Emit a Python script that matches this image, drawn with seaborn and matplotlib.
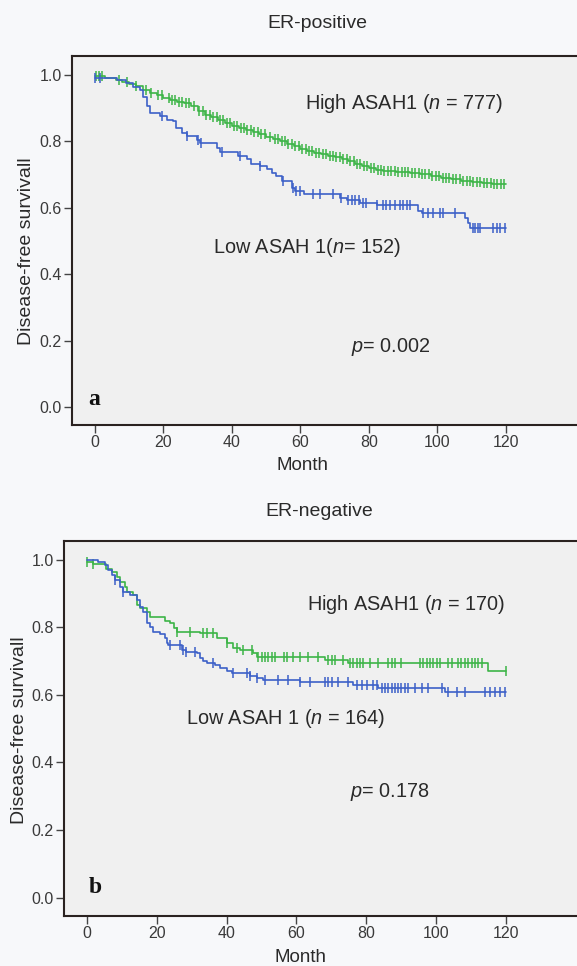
import numpy as np
import pandas as pd
import matplotlib
matplotlib.use("Agg")
import matplotlib.pyplot as plt
import seaborn as sns

# ---------------- data ----------------
# Panel a (ER-positive)
a_high_t = [0, 3, 6, 8, 10, 12, 14, 16, 18, 20, 22, 24, 26, 28, 30, 32, 34, 36, 38, 40,
            42, 44, 46, 48, 50, 52, 54, 56, 58, 60, 62, 64, 66, 68, 70, 72, 74, 76, 78, 80,
            82, 84, 88, 92, 95, 98, 101, 104, 107, 110, 113, 116, 120]
a_high_s = [0.997, 0.992, 0.986, 0.980, 0.972, 0.966, 0.956, 0.947, 0.939, 0.931, 0.925, 0.919,
            0.914, 0.906, 0.891, 0.880, 0.872, 0.863, 0.854, 0.846, 0.839, 0.833, 0.828, 0.822,
            0.813, 0.806, 0.800, 0.792, 0.785, 0.777, 0.772, 0.766, 0.762, 0.757, 0.752, 0.746,
            0.740, 0.733, 0.725, 0.719, 0.715, 0.710, 0.708, 0.706, 0.703, 0.696, 0.690, 0.686,
            0.682, 0.679, 0.676, 0.672, 0.672]
a_high_cens = [0.3, 1.2, 2.2, 7, 9.5, 12, 15, 16.5, 18.5, 19.5, 21.5, 22.5, 23.5, 24.5, 25.5,
               26.5, 27.5, 29, 30.5, 31.5, 32.5, 33.5, 34.5, 35.5, 36.5, 37.5, 38.5, 39.5, 40.5,
               41.5, 42.5, 43.5, 44.5, 45.5, 46.5, 47.5, 48.5, 49.5, 51, 52.5, 53.5, 54.5, 55.5,
               56.5, 57.5, 58.5, 59.5, 60.5, 61.5, 62.5, 63.5, 64.5, 65.5, 66.5, 67.5, 68.5,
               69.5, 70.5, 71.5, 72.5, 73.5, 74.5, 75.5, 76.5, 77.5, 78.5, 79.5, 80.5, 81.5,
               82.5, 83.5, 84.5, 85.5, 86.5, 87.5, 88.5, 89.5, 90.5, 91.5, 92.5, 93.5, 94.5,
               95.5, 96.5, 97.5, 98.5, 99.5, 100.5, 101.5, 102.5, 103.5, 104.5, 105.5, 106.5,
               107.5, 108.5, 109.5, 110.5, 111.5, 112.5, 113.5, 114.5, 115.5, 116.5, 117.5,
               118.5, 119.5]

a_low_t = [0, 6.3, 9.2, 11.2, 13.1, 14.1, 15.1, 16.1, 19.0, 21.0, 22.8, 23.8, 25.3, 26.8, 29.7,
           30.7, 35.5, 36.5, 41.9, 44.3, 45.7, 48.2, 50.1, 51.6, 53.0, 54.5, 57.4, 58.4, 60.9,
           71.6, 73.5, 77.4, 82.3, 94.4, 95.4, 108.0, 109.0, 109.5, 120]
a_low_s = [0.990, 0.985, 0.975, 0.963, 0.955, 0.935, 0.905, 0.885, 0.875, 0.865, 0.860, 0.840,
           0.825, 0.815, 0.805, 0.795, 0.780, 0.768, 0.756, 0.746, 0.731, 0.726, 0.716, 0.706,
           0.696, 0.681, 0.660, 0.650, 0.640, 0.630, 0.622, 0.615, 0.607, 0.590, 0.585, 0.570,
           0.555, 0.540, 0.540]
a_low_cens = [0, 1.5, 19.5, 26.8, 30.2, 30.9, 37, 42.3, 48.2, 55, 57.9, 58.8, 59.8, 63.7, 65.6,
              69.5, 71.9, 73.9, 75, 76, 77, 78.4, 79, 82.3, 84.2, 85.1, 86.1, 87.6, 89.0, 90.0,
              91.0, 92.0, 95.9, 97.3, 98.8, 100.7, 101.7, 105.1, 110.3, 111.0, 111.8, 112.5,
              116.3, 117.3, 118.2, 119.7]

# Panel b (ER-negative)
b_high_t = [0, 1.7, 5.5, 7.1, 8.5, 9.4, 10.9, 11.4, 13.3, 14.2, 15.2, 17.1, 18.0, 22.3, 23.8,
            24.8, 25.8, 32.3, 37.1, 40.0, 41.9, 43.8, 47.6, 48.6, 68.2, 74.9, 115.0, 120]
b_high_s = [0.994, 0.988, 0.973, 0.964, 0.949, 0.934, 0.920, 0.905, 0.895, 0.866, 0.856, 0.846,
            0.831, 0.817, 0.812, 0.797, 0.787, 0.782, 0.768, 0.753, 0.738, 0.733, 0.723, 0.711,
            0.703, 0.695, 0.670, 0.670]
b_high_cens = [0, 1.7, 25.8, 29.6, 33.3, 34.3, 36.2, 40.0, 42.9, 44.8, 47.2, 49.1, 50.0, 51.0,
               51.9, 52.9, 53.9, 56.3, 57.2, 59.1, 61.0, 63.4, 66.3, 69.1, 70.1, 71.0, 73.4,
               75.4, 76.3, 77.3, 78.2, 79.2, 81.1, 83.5, 86.3, 87.3, 88.2, 90.1, 95.4, 96.4,
               97.3, 98.3, 99.2, 100.2, 101.1, 103.5, 104.5, 106.4, 107.3, 108.3, 109.3, 110.2,
               111.2, 112.1, 113.1, 120.0]

b_low_t = [0, 3.2, 5.2, 6.1, 7.1, 8.0, 9.4, 10.4, 12.3, 14.2, 15.2, 16.1, 17.1, 18.0, 19.0,
           20.9, 22.3, 22.8, 23.3, 27.1, 28.5, 31.4, 32.3, 33.3, 34.3, 36.7, 38.1, 40.0, 41.4,
           46.7, 48.6, 50.5, 61.0, 76.3, 83.5, 102.5, 120]
b_low_s = [1.000, 0.994, 0.984, 0.969, 0.954, 0.940, 0.920, 0.905, 0.895, 0.880, 0.861, 0.846,
           0.812, 0.802, 0.787, 0.780, 0.768, 0.753, 0.746, 0.733, 0.728, 0.723, 0.708, 0.699,
           0.694, 0.689, 0.679, 0.672, 0.666, 0.656, 0.650, 0.645, 0.637, 0.630, 0.620, 0.607,
           0.607]
b_low_cens = [8.0, 10.4, 23.8, 26.7, 27.6, 28.5, 30.9, 36.2, 41.9, 45.7, 46.7, 48.6, 51.0, 54.8,
              57.7, 61.0, 63.9, 68.2, 69.1, 70.1, 72.0, 74.9, 77.3, 78.7, 80.1, 82.0, 83.0,
              84.4, 85.4, 86.3, 87.3, 88.2, 89.2, 90.1, 91.1, 92.1, 94.0, 95.9, 97.8, 101.6,
              103.5, 105.9, 108.3, 114.0, 115.5, 116.9, 118.3, 119.8]

x_ticks = [0, 20, 40, 60, 80, 100, 120]
y_ticks = [0.0, 0.2, 0.4, 0.6, 0.8, 1.0]

# ---------------- style ----------------
sns.set_theme(style="white")
plt.rcParams["font.family"] = ["Liberation Sans", "DejaVu Sans"]
plt.rcParams["mathtext.fontset"] = "custom"
plt.rcParams["mathtext.rm"] = "Liberation Sans"
plt.rcParams["mathtext.it"] = "Liberation Sans:italic"
plt.rcParams["mathtext.bf"] = "Liberation Sans:bold"

BLUE = "#3c60c8"
GREEN = "#3cb447"
FIG_BG = "#f7f8fa"
AX_BG = "#f0f0f0"
TXT = "#2a2a2a"

fig = plt.figure(figsize=(5.77, 9.66), dpi=100, facecolor=FIG_BG)


def step_lookup(times, vals, t):
    times = np.asarray(times)
    idx = np.searchsorted(times, t, side="right") - 1
    return np.asarray(vals)[np.clip(idx, 0, len(vals) - 1)]


def draw_panel(ax, curves, xlim, ylim):
    ax.set_facecolor(AX_BG)
    for t, s, cens, col in curves:
        df = pd.DataFrame({"Month": t, "S": s})
        sns.lineplot(data=df, x="Month", y="S", drawstyle="steps-post", estimator=None,
                     sort=False, color=col, lw=1.2, ax=ax)
        cy = step_lookup(t, s, np.asarray(cens))
        ax.plot(cens, cy, linestyle="none", marker="|", markersize=6.5,
                markeredgewidth=1.1, color=col)
    ax.set_xlim(*xlim)
    ax.set_ylim(*ylim)
    ax.set_xticks(x_ticks)
    ax.set_yticks(y_ticks)
    ax.set_xticklabels([str(v) for v in x_ticks])
    ax.set_yticklabels([f"{v:.1f}" for v in y_ticks])
    ax.tick_params(axis="both", direction="out", length=6, width=1.0, color="#444444",
                   labelsize=11.5, labelcolor="#3a3a3a", pad=1.5)
    ax.tick_params(left=True, bottom=True)
    for side in ["left", "top", "bottom"]:
        ax.spines[side].set_visible(True)
        ax.spines[side].set_color("#2a2220")
        ax.spines[side].set_linewidth(1.5)
    ax.spines["right"].set_visible(False)
    ax.set_xlabel("")
    ax.set_ylabel("")


# Panel a
ax1 = fig.add_axes([72 / 577, 1 - 425 / 966, (600 - 72) / 577, (425 - 56) / 966])
draw_panel(ax1, [(a_high_t, a_high_s, a_high_cens, GREEN),
                 (a_low_t, a_low_s, a_low_cens, BLUE)],
           (-6.7, (600 - 95) / 3.425), (-0.054, 1.057))
ax1.text(61.3, 0.913, "High ASAH1 ($n$ = 777)", fontsize=14.3, color=TXT, ha="left", va="center")
ax1.text(34.5, 0.480, "Low ASAH 1($n$= 152)", fontsize=14.3, color=TXT, ha="left", va="center")
ax1.text(74.7, 0.182, "$p$= 0.002", fontsize=14.3, color=TXT, ha="left", va="center")
ax1.text(-2.0, 0.024, "a", fontsize=17, fontweight="bold", family=["Liberation Serif", "DejaVu Serif"],
         color="#111111", ha="left", va="center")

# Panel b
ax2 = fig.add_axes([64 / 577, 1 - 916 / 966, (600 - 64) / 577, (916 - 541) / 966])
draw_panel(ax2, [(b_high_t, b_high_s, b_high_cens, GREEN),
                 (b_low_t, b_low_s, b_low_cens, BLUE)],
           (-6.6, (600 - 87) / 3.49), (-0.054, 1.055))
ax2.text(62.9, 0.868, "High ASAH1 ($n$ = 170)", fontsize=14.3, color=TXT, ha="left", va="center")
ax2.text(28.3, 0.531, "Low ASAH 1 ($n$ = 164)", fontsize=14.3, color=TXT, ha="left", va="center")
ax2.text(75.4, 0.312, "$p$= 0.178", fontsize=14.3, color=TXT, ha="left", va="center")
ax2.text(0.4, 0.031, "b", fontsize=17, fontweight="bold", family=["Liberation Serif", "DejaVu Serif"],
         color="#111111", ha="left", va="center")

# Titles and axis labels as figure text
fig.text(317 / 577, 1 - 24 / 966, "ER-positive", fontsize=14, color=TXT, ha="center", va="center")
fig.text(319 / 577, 1 - 512 / 966, "ER-negative", fontsize=14, color=TXT, ha="center", va="center")
fig.text(302 / 577, 1 - 465 / 966, "Month", fontsize=13.5, color=TXT, ha="center", va="center")
fig.text(300 / 577, 1 - 957 / 966, "Month", fontsize=13.5, color=TXT, ha="center", va="center")
fig.text(27 / 577, 1 - 251 / 966, "Disease-free survivall", fontsize=14, color=TXT,
         ha="center", va="center", rotation=90)
fig.text(20 / 577, 1 - 730 / 966, "Disease-free survivall", fontsize=14, color=TXT,
         ha="center", va="center", rotation=90)

fig.savefig("out.png", dpi=100, facecolor=FIG_BG)
